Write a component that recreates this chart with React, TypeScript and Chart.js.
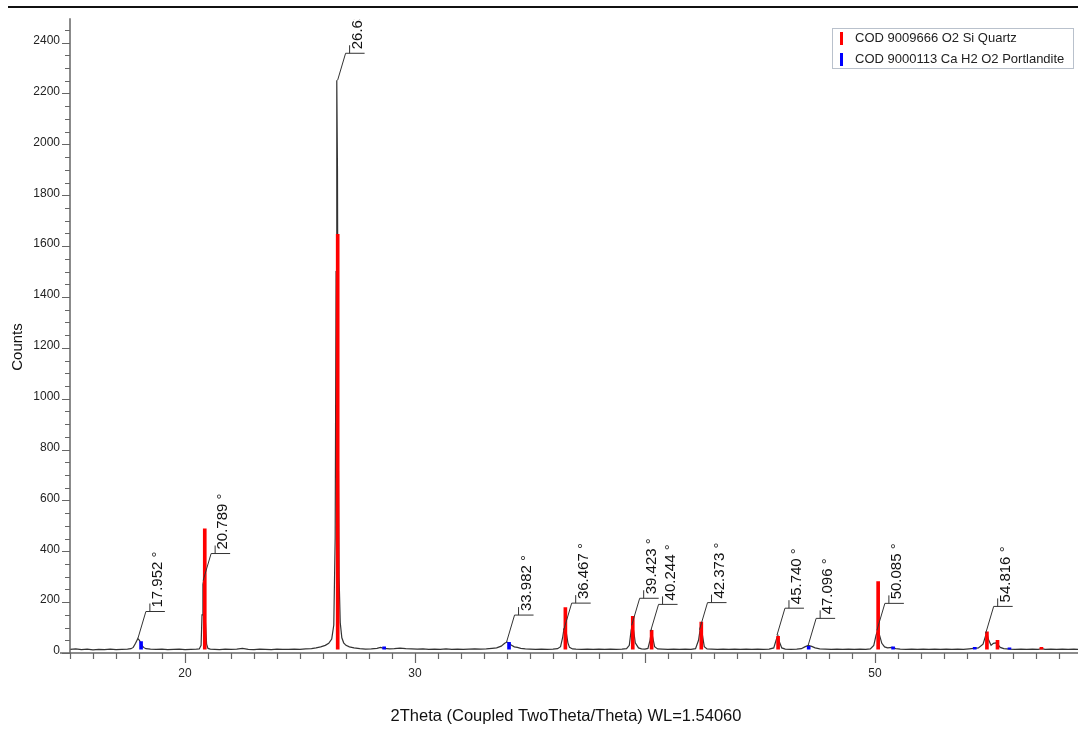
import React, { useEffect, useRef } from 'react';
import { Chart, registerables } from 'chart.js';

Chart.register(...registerables);

// Measured XRD pattern: [2theta, counts]
const pattern: [number, number][] = [
  [15.0, 14], [15.25, 16], [15.5, 13], [15.75, 15], [16.0, 12], [16.25, 14], [16.5, 13], [16.75, 15],
  [17.0, 13], [17.25, 14], [17.5, 15], [17.65, 17], [17.75, 22], [17.85, 38], [17.95, 57], [18.02, 50],
  [18.1, 33], [18.2, 22], [18.3, 17], [18.5, 15], [18.75, 14], [19.0, 15], [19.25, 13], [19.5, 14],
  [19.75, 15], [20.0, 13], [20.25, 14], [20.5, 15], [20.62, 16], [20.7, 30], [20.74, 150], [20.78, 270],
  [20.81, 285], [20.85, 250], [20.89, 120], [20.94, 35], [21.0, 18], [21.1, 15], [21.3, 14], [21.5, 13],
  [21.75, 15], [22.0, 14], [22.25, 15], [22.5, 18], [22.75, 14], [23.0, 13], [23.25, 15], [23.5, 14],
  [23.75, 13], [24.0, 15], [24.25, 14], [24.5, 14], [24.75, 15], [25.0, 14], [25.25, 16], [25.5, 17],
  [25.7, 20], [25.9, 24], [26.1, 30], [26.25, 38], [26.38, 55], [26.47, 110], [26.53, 450], [26.57, 1500],
  [26.6, 2252], [26.63, 1900], [26.66, 900], [26.7, 300], [26.75, 120], [26.82, 60], [26.9, 40], [27.0, 30],
  [27.15, 24], [27.35, 20], [27.6, 17], [27.85, 15], [28.1, 16], [28.35, 18], [28.5, 22], [28.65, 18],
  [28.9, 16], [29.1, 17], [29.35, 19], [29.6, 17], [29.85, 16], [30.1, 15], [30.35, 16], [30.6, 14],
  [30.85, 15], [31.1, 14], [31.35, 16], [31.6, 14], [31.85, 15], [32.1, 14], [32.35, 15], [32.6, 16],
  [32.85, 15], [33.1, 16], [33.35, 18], [33.55, 20], [33.75, 27], [33.9, 38], [34.0, 43], [34.1, 38],
  [34.2, 30], [34.32, 24], [34.45, 22], [34.6, 18], [34.8, 16], [35.0, 15], [35.25, 14], [35.5, 15],
  [35.75, 14], [36.0, 15], [36.2, 17], [36.33, 25], [36.42, 60], [36.48, 95], [36.53, 100], [36.58, 80],
  [36.65, 40], [36.72, 22], [36.85, 16], [37.0, 15], [37.25, 14], [37.5, 15], [37.75, 14], [38.0, 15],
  [38.25, 14], [38.5, 15], [38.75, 14], [39.0, 15], [39.2, 17], [39.32, 30], [39.4, 90], [39.46, 112],
  [39.52, 80], [39.58, 40], [39.65, 30], [39.72, 20], [39.85, 16], [40.0, 15], [40.13, 18], [40.22, 50],
  [40.28, 85], [40.34, 60], [40.42, 25], [40.55, 16], [40.75, 15], [41.0, 14], [41.25, 15], [41.5, 14],
  [41.75, 15], [42.0, 14], [42.2, 17], [42.33, 50], [42.4, 92], [42.45, 97], [42.5, 70], [42.58, 25],
  [42.7, 16], [42.9, 15], [43.15, 14], [43.4, 15], [43.65, 14], [43.9, 15], [44.15, 14], [44.4, 15],
  [44.65, 14], [44.9, 15], [45.15, 14], [45.4, 15], [45.6, 20], [45.72, 55], [45.78, 68], [45.84, 45],
  [45.95, 20], [46.1, 15], [46.35, 14], [46.6, 15], [46.8, 17], [46.95, 24], [47.1, 30], [47.25, 26],
  [47.4, 20], [47.6, 16], [47.85, 15], [48.1, 14], [48.35, 15], [48.6, 14], [48.85, 15], [49.1, 14],
  [49.35, 15], [49.6, 14], [49.8, 16], [49.95, 30], [50.05, 70], [50.12, 89], [50.2, 70], [50.3, 38],
  [50.42, 24], [50.55, 20], [50.75, 22], [50.9, 17], [51.1, 15], [51.35, 14], [51.6, 15], [51.85, 14],
  [52.1, 15], [52.35, 14], [52.6, 15], [52.85, 14], [53.1, 15], [53.35, 14], [53.6, 15], [53.85, 14],
  [54.1, 16], [54.3, 18], [54.5, 20], [54.7, 35], [54.82, 70], [54.87, 77], [54.95, 50], [55.05, 30],
  [55.15, 38], [55.25, 40], [55.33, 35], [55.45, 22], [55.6, 17], [55.85, 15], [56.1, 14], [56.35, 15],
  [56.6, 14], [56.85, 15], [57.1, 14], [57.25, 17], [57.4, 14], [57.65, 15], [57.9, 14], [58.15, 15],
  [58.4, 14], [58.65, 15], [58.9, 14],
];

// Reference sticks
const quartzTheta = [20.86, 26.64, 36.54, 39.47, 40.29, 42.45, 45.79, 50.14, 54.87, 55.33, 57.24];
const quartzCounts = [488, 1646, 179, 144, 89, 122, 66, 281, 83, 50, 22];
const portlanditeTheta = [18.09, 28.66, 34.09, 47.12, 50.79, 54.34, 55.85];
const portlanditeCounts = [45, 24, 42, 26, 24, 22, 20];
const stickBase = 15;

// Peak annotations
const peakTheta = [17.952, 20.789, 26.636, 33.982, 36.467, 39.423, 40.244, 42.373, 45.74, 47.096, 50.085, 54.816];
const peakCounts = [57, 285, 2252, 43, 90, 109, 85, 92, 70, 30, 89, 77];
const peakLabels = ['17.952 °', '20.789 °', '26.636 °', '33.982 °', '36.467 °', '39.423 °', '40.244 °', '42.373 °', '45.740 °', '47.096 °', '50.085 °', '54.816 °'];

// Axes
const xMin = 15;
const xMax = 58.83;
const yMin = 0;
const yMax = 2500;
const xTickValues = [20, 30, 50];
const yTickValues = [0, 200, 400, 600, 800, 1000, 1200, 1400, 1600, 1800, 2000, 2200, 2400];

const legendItems = ['COD 9009666 O2 Si Quartz', 'COD 9000113 Ca H2 O2 Portlandite'];
const legendColors = ['#ff0000', '#0000ff'];
const xTitle = '2Theta (Coupled TwoTheta/Theta) WL=1.54060';
const yTitle = 'Counts';

const FONT = '"Liberation Sans", Arial, sans-serif';

const decorPlugin = {
  id: 'decor',
  afterDatasetsDraw(chart: any) {
    const ctx = chart.ctx;
    const ca = chart.chartArea;
    const xs = chart.scales.x;
    const ys = chart.scales.y;

    // peak labels (clipped to plot area)
    ctx.save();
    ctx.beginPath();
    ctx.rect(ca.left, ca.top + 2, ca.right - ca.left, ca.bottom - ca.top);
    ctx.clip();
    ctx.strokeStyle = '#333333';
    ctx.lineWidth = 1;
    ctx.fillStyle = '#111111';
    ctx.font = '15px ' + FONT;
    for (let i = 0; i < peakTheta.length; i++) {
      const px = xs.getPixelForValue(peakTheta[i]);
      const py = ys.getPixelForValue(peakCounts[i]);
      const bx = px + 8;
      const by = py - 27;
      ctx.beginPath();
      ctx.moveTo(px, py);
      ctx.lineTo(bx, by);
      ctx.lineTo(bx + 19, by);
      ctx.moveTo(bx + 4, by);
      ctx.lineTo(bx + 4, by - 8);
      ctx.stroke();
      ctx.save();
      ctx.translate(bx + 12, by - 4);
      ctx.rotate(-Math.PI / 2);
      ctx.textAlign = 'left';
      ctx.textBaseline = 'middle';
      ctx.fillText(peakLabels[i], 0, 0);
      ctx.restore();
    }
    ctx.restore();
  },
  afterDraw(chart: any) {
    const ctx = chart.ctx;
    const ca = chart.chartArea;
    const xs = chart.scales.x;
    const ys = chart.scales.y;
    ctx.save();

    // top rule
    ctx.strokeStyle = '#111111';
    ctx.lineWidth = 2;
    ctx.beginPath();
    ctx.moveTo(8, 7);
    ctx.lineTo(1078, 7);
    ctx.stroke();

    // axes
    ctx.strokeStyle = '#666666';
    ctx.lineWidth = 1.5;
    ctx.beginPath();
    ctx.moveTo(ca.left, ca.top + 1);
    ctx.lineTo(ca.left, ca.bottom);
    ctx.moveTo(ca.left - 10, ca.bottom);
    ctx.lineTo(ca.right, ca.bottom);
    ctx.stroke();

    // y ticks every 50
    ctx.lineWidth = 1.2;
    ctx.beginPath();
    for (let v = 0; v < yMax; v += 50) {
      const y = Math.round(ys.getPixelForValue(v)) + 0.5;
      const len = v % 200 === 0 ? 8 : 5;
      ctx.moveTo(ca.left - len, y);
      ctx.lineTo(ca.left, y);
    }
    // x ticks every 1 degree
    for (let v = 15; v <= 58; v += 1) {
      const x = Math.round(xs.getPixelForValue(v)) + 0.5;
      const len = v % 10 === 0 ? 10 : 6;
      ctx.moveTo(x, ca.bottom);
      ctx.lineTo(x, ca.bottom + len);
    }
    ctx.stroke();

    // legend
    const lx = 832, ly = 28, lw = 241, lh = 40;
    ctx.fillStyle = '#ffffff';
    ctx.fillRect(lx, ly, lw, lh);
    ctx.strokeStyle = '#b9c1cc';
    ctx.lineWidth = 1;
    ctx.strokeRect(lx + 0.5, ly + 0.5, lw, lh);
    ctx.font = '13px ' + FONT;
    ctx.textAlign = 'left';
    ctx.textBaseline = 'middle';
    for (let i = 0; i < legendItems.length; i++) {
      const cy = 38 + i * 21;
      ctx.fillStyle = legendColors[i];
      ctx.fillRect(840, cy - 6, 3, 13);
      ctx.fillStyle = '#222222';
      ctx.fillText(legendItems[i], 855, cy);
    }

    // titles
    ctx.fillStyle = '#111111';
    ctx.textAlign = 'center';
    ctx.textBaseline = 'middle';
    ctx.font = '16.5px ' + FONT;
    ctx.fillText(xTitle, 566, 716);
    ctx.font = '15px ' + FONT;
    ctx.save();
    ctx.translate(18, 347);
    ctx.rotate(-Math.PI / 2);
    ctx.fillText(yTitle, 0, 0);
    ctx.restore();

    ctx.restore();
  },
};

export default function App() {
  const canvasRef = useRef<HTMLCanvasElement | null>(null);

  useEffect(() => {
    const canvas = canvasRef.current;
    if (!canvas) return;
    const chart = new Chart(canvas, {
      type: 'line',
      data: {
        datasets: [
          {
            type: 'bar',
            label: legendItems[0],
            data: quartzTheta.map((t, i) => ({ x: t, y: [stickBase, quartzCounts[i]] })) as any,
            backgroundColor: '#ff0000',
            borderWidth: 0,
            barThickness: 3,
            grouped: false,
            order: 0,
          } as any,
          {
            type: 'bar',
            label: legendItems[1],
            data: portlanditeTheta.map((t, i) => ({ x: t, y: [stickBase, portlanditeCounts[i]] })) as any,
            backgroundColor: '#0000ff',
            borderWidth: 0,
            barThickness: 3,
            grouped: false,
            order: 0,
          } as any,
          {
            type: 'line',
            label: 'pattern',
            data: pattern.map(([x, y]) => ({ x, y })),
            borderColor: '#333333',
            borderWidth: 1.2,
            pointRadius: 0,
            tension: 0,
            fill: false,
            order: 1,
          },
        ],
      },
      options: {
        animation: false,
        responsive: false,
        devicePixelRatio: 1,
        events: [],
        layout: { padding: { top: 14, left: 0, right: 0, bottom: 0 } },
        plugins: { legend: { display: false }, tooltip: { enabled: false }, title: { display: false } },
        scales: {
          x: {
            type: 'linear',
            min: xMin,
            max: xMax,
            offset: false,
            grid: { display: false, drawTicks: false, offset: false },
            border: { display: false },
            afterBuildTicks: (s: any) => { s.ticks = xTickValues.map((v) => ({ value: v })); },
            afterFit: (s: any) => { s.height = 77; },
            ticks: {
              autoSkip: false,
              maxRotation: 0,
              padding: 13,
              color: '#222222',
              font: { family: FONT, size: 12 },
              callback: (v: any) => String(v),
            },
          },
          y: {
            type: 'linear',
            min: yMin,
            max: yMax,
            grid: { display: false, drawTicks: false },
            border: { display: false },
            afterBuildTicks: (s: any) => { s.ticks = yTickValues.map((v) => ({ value: v })); },
            afterFit: (s: any) => { s.width = 70; },
            ticks: {
              autoSkip: false,
              padding: 10,
              labelOffset: -2,
              color: '#222222',
              font: { family: FONT, size: 12 },
              callback: (v: any) => String(v),
            },
          },
        },
      } as any,
      plugins: [decorPlugin],
    });
    return () => chart.destroy();
  }, []);

  return (
    <div style={{ position: 'fixed', left: 0, top: 0, width: 1078, height: 730, background: '#ffffff' }}>
      <canvas ref={canvasRef} width={1078} height={730} style={{ display: 'block', width: 1078, height: 730 }} />
    </div>
  );
}
